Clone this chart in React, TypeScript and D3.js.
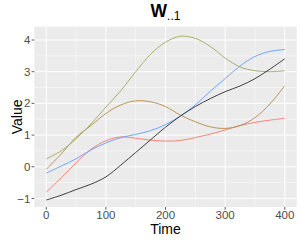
import * as d3 from "d3";

const time = [0, 25, 50, 75, 100, 125, 150, 175, 200, 225, 250, 275, 300, 325, 350, 375, 400];

const olive = [0.25, 0.5, 0.88, 1.35, 1.88, 2.4, 3.0, 3.55, 3.93, 4.12, 4.05, 3.8, 3.43, 3.15, 3.03, 3.0, 3.03];
const brown = [-0.08, 0.4, 0.93, 1.3, 1.68, 1.95, 2.08, 2.05, 1.9, 1.63, 1.42, 1.26, 1.21, 1.3, 1.55, 1.98, 2.56];
const blue = [-0.2, 0.02, 0.25, 0.53, 0.75, 0.92, 1.02, 1.14, 1.33, 1.6, 1.95, 2.38, 2.78, 3.18, 3.48, 3.64, 3.7];
const red = [-0.8, -0.35, 0.12, 0.55, 0.82, 0.94, 0.9, 0.84, 0.81, 0.83, 0.92, 1.03, 1.16, 1.3, 1.4, 1.47, 1.53];
const black = [-1.05, -0.9, -0.72, -0.55, -0.32, 0.05, 0.45, 0.85, 1.25, 1.6, 1.9, 2.15, 2.37, 2.55, 2.78, 3.08, 3.41];

const seriesList = [
  { name: "red", color: "#F8766D", values: red },
  { name: "brown", color: "#B4894B", values: brown },
  { name: "olive", color: "#9DAA5C", values: olive },
  { name: "blue", color: "#619CFF", values: blue },
  { name: "black", color: "#2b2b2b", values: black },
];

const xTicks = [0, 100, 200, 300, 400];
const xMinor = [50, 150, 250, 350];
const yTicks = [-1, 0, 1, 2, 3, 4];
const yMinor = [-0.5, 0.5, 1.5, 2.5, 3.5];

const P = { left: 34.3, right: 296.7, top: 26.7, bottom: 207 };
const FONT = "Liberation Sans, Arial, Helvetica, sans-serif";

export default function App() {
  const x = d3.scaleLinear().domain([-20, 420]).range([P.left, P.right]);
  const y = d3.scaleLinear().domain([-1.27, 4.42]).range([P.bottom, P.top]);

  const line = d3
    .line<number>()
    .x((_, i) => x(time[i]))
    .y((d) => y(d))
    .curve(d3.curveCatmullRom.alpha(0.5));

  return (
    <svg
      width={300}
      height={240}
      style={{ position: "absolute", left: 0, top: 0, display: "block", background: "#fff" }}
      fontFamily={FONT}
    >
      <rect x={P.left} y={P.top} width={P.right - P.left} height={P.bottom - P.top} fill="#EBEBEB" />

      {/* minor grid */}
      {xMinor.map((t) => (
        <line key={"xm" + t} x1={x(t)} x2={x(t)} y1={P.top} y2={P.bottom} stroke="#fff" strokeWidth={0.5} />
      ))}
      {yMinor.map((t) => (
        <line key={"ym" + t} x1={P.left} x2={P.right} y1={y(t)} y2={y(t)} stroke="#fff" strokeWidth={0.5} />
      ))}
      {/* major grid */}
      {xTicks.map((t) => (
        <line key={"xg" + t} x1={x(t)} x2={x(t)} y1={P.top} y2={P.bottom} stroke="#fff" strokeWidth={1} />
      ))}
      {yTicks.map((t) => (
        <line key={"yg" + t} x1={P.left} x2={P.right} y1={y(t)} y2={y(t)} stroke="#fff" strokeWidth={1} />
      ))}

      {seriesList.map((s) => (
        <path key={s.name} d={line(s.values) || ""} fill="none" stroke={s.color} strokeWidth={0.9} />
      ))}

      {/* axes ticks */}
      {xTicks.map((t) => (
        <g key={"xt" + t}>
          <line x1={x(t)} x2={x(t)} y1={P.bottom} y2={P.bottom + 2.7} stroke="#333" strokeWidth={0.8} />
          <text x={x(t)} y={219.3} textAnchor="middle" fontSize={11.5} fill="#4D4D4D">
            {t}
          </text>
        </g>
      ))}
      {yTicks.map((t) => (
        <g key={"yt" + t}>
          <line x1={P.left - 2.7} x2={P.left} y1={y(t)} y2={y(t)} stroke="#333" strokeWidth={0.8} />
          <text x={P.left - 4} y={y(t) + 4.1} textAnchor="end" fontSize={11.5} fill="#4D4D4D">
            {t < 0 ? "\u2212" + Math.abs(t) : t}
          </text>
        </g>
      ))}

      <text x={(P.left + P.right) / 2} y={234.3} textAnchor="middle" fontSize={14} fill="#000">
        Time
      </text>
      <text
        transform={`translate(21.5,${(P.top + P.bottom) / 2}) rotate(-90)`}
        textAnchor="middle"
        fontSize={14}
        fill="#000"
      >
        Value
      </text>

      <text x={(P.left + P.right) / 2} y={16.7} textAnchor="middle" fill="#000">
        <tspan fontSize={17.5} fontWeight="bold">W</tspan>
        <tspan fontSize={12} dy={3.3}>..1</tspan>
      </text>
    </svg>
  );
}
